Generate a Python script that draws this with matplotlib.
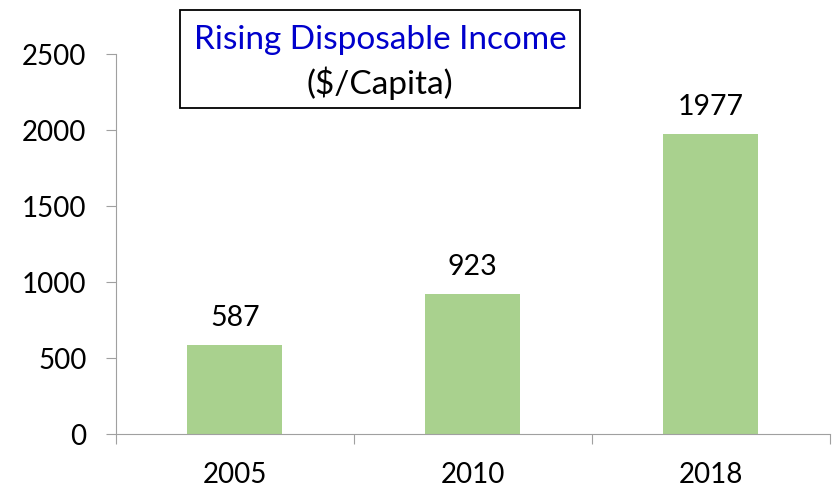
import matplotlib
matplotlib.use("Agg")
import matplotlib.pyplot as plt

years = ["2005", "2010", "2018"]
income = [587, 923, 1977]
yticks = [0, 500, 1000, 1500, 2000, 2500]

plt.rcParams["font.family"] = ["Lato", "DejaVu Sans"]

fig = plt.figure(figsize=(8.33, 4.98), dpi=100)
ax = fig.add_axes([0.139, 0.1285, 0.857, 0.763])

x = range(len(years))
ax.bar(x, income, width=0.4, color="#a9d18e")
for xi, v in zip(x, income):
    ax.annotate(str(v), (xi, v), xytext=(0, 10), textcoords="offset points",
                ha="center", va="bottom", fontsize=20.5)

ax.set_xlim(-0.5, len(years) - 0.5)
ax.set_ylim(0, 2500)
ax.set_yticks(yticks)
ax.tick_params(axis="y", labelsize=20, length=7, color="#a0a0a0", pad=14)
# category boundary ticks on the x axis, year labels in between
ax.set_xticks([i - 0.5 for i in range(len(years) + 1)], minor=False)
ax.set_xticklabels([""] * (len(years) + 1))
ax.tick_params(axis="x", length=7, color="#a0a0a0", direction="out")
ax.set_xticks(list(x), minor=True)
ax.set_xticklabels(years, minor=True)
ax.tick_params(axis="x", which="minor", length=0, labelsize=20, pad=20)

for s in ["top", "right"]:
    ax.spines[s].set_visible(False)
for s in ["left", "bottom"]:
    ax.spines[s].set_color("#a0a0a0")

box = plt.Rectangle((180 / 833, 1 - 108 / 498), 400 / 833, 98 / 498,
                    transform=fig.transFigure, fill=True, facecolor="white",
                    edgecolor="black", linewidth=1.3)
fig.patches.append(box)
fig.text(380 / 833, 1 - 40 / 498, "Rising Disposable Income", color="#0000cc",
         ha="center", va="center", fontsize=24)
fig.text(380 / 833, 1 - 83 / 498, "($/Capita)", color="black",
         ha="center", va="center", fontsize=24)

fig.savefig("out.png", dpi=100)
